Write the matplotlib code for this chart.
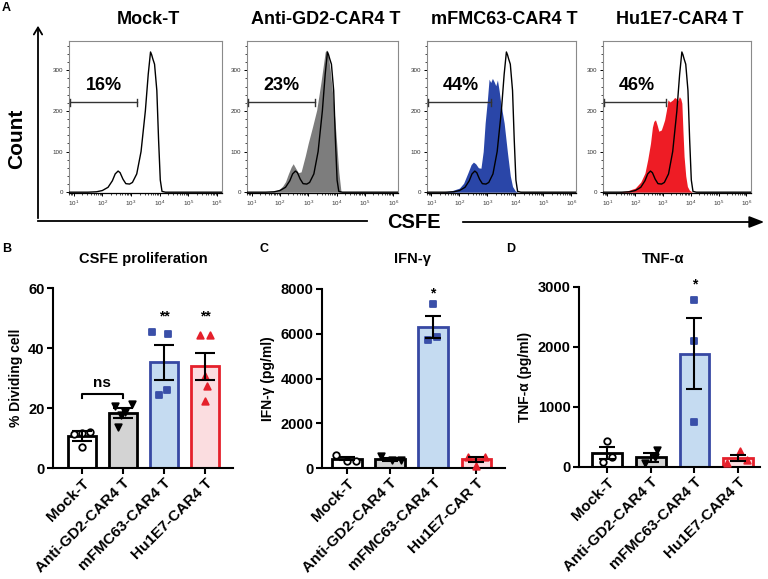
import matplotlib
matplotlib.use("Agg")
import matplotlib.pyplot as plt
import numpy as np
from matplotlib.lines import Line2D
from matplotlib.patches import FancyArrowPatch
from matplotlib.ticker import FixedLocator, MultipleLocator, LogLocator, NullFormatter

plt.rcParams['font.family'] = ['Liberation Sans', 'DejaVu Sans']
plt.rcParams['font.weight'] = 'bold'

W, H = 768, 579

# ---- panel A: CSFE histograms (log10 CSFE, count) ----
hist_titles = ["Mock-T", "Anti-GD2-CAR4 T", "mFMC63-CAR4 T", "Hu1E7-CAR4 T"]
gate_pct = ["16%", "23%", "44%", "46%"]
gate_end = [3.2, 3.24, 3.12, 3.12]

mock_lx = [0.85, 1.5, 1.8, 2.0, 2.2, 2.35, 2.45, 2.55, 2.62, 2.72, 2.82, 2.95, 3.05, 3.2,
           3.35, 3.5, 3.6, 3.68, 3.72, 3.76, 3.82, 3.9, 3.96, 4.02, 4.08, 4.2, 6.2]
mock_cnt = [0, 0, 1, 4, 12, 28, 45, 52, 48, 32, 21, 20, 24, 45,
            100, 200, 290, 345, 338, 328, 315, 250, 130, 30, 2, 0, 0]

anti_lx = [0.85, 1.5, 1.8, 2.0, 2.1, 2.2, 2.3, 2.4, 2.47, 2.55, 2.65, 2.75, 2.9, 3.0, 3.15,
           3.3, 3.45, 3.55, 3.6, 3.65, 3.7, 3.78, 3.88, 3.98, 4.08, 4.16, 6.2]
anti_cnt = [0, 0, 2, 8, 15, 26, 45, 62, 70, 60, 48, 50, 90, 120, 160,
            202, 270, 320, 345, 350, 340, 300, 230, 145, 50, 0, 0]

blue_lx = [0.85, 1.35, 1.7, 2.0, 2.15, 2.3, 2.42, 2.5, 2.58, 2.68, 2.77, 2.85, 2.92, 3.0, 3.06,
           3.12, 3.18, 3.24, 3.3, 3.36, 3.42, 3.48, 3.6, 3.72, 3.82, 3.9, 4.0, 4.1, 6.2]
blue_cnt = [0, 0, 3, 10, 22, 47, 68, 74, 70, 60, 59, 100, 170, 227, 278,
            270, 280, 272, 262, 276, 250, 219, 170, 96, 40, 14, 3, 0, 0]

red_lx = [0.85, 1.35, 1.7, 2.0, 2.2, 2.35, 2.45, 2.55, 2.62, 2.67, 2.73, 2.79, 2.85, 2.94, 3.0,
          3.06, 3.12, 3.18, 3.25, 3.35, 3.42, 3.47, 3.53, 3.59, 3.64, 3.68, 3.72, 3.76, 3.82,
          3.88, 3.95, 4.06, 6.2]
red_cnt = [0, 0, 3, 10, 25, 47, 80, 120, 160, 174, 178, 165, 150, 153, 165,
           178, 200, 227, 222, 227, 233, 231, 225, 235, 230, 219, 150, 88, 40,
           14, 5, 0, 0]

filled = [None, (anti_lx, anti_cnt, "#7d7d7d"), (blue_lx, blue_cnt, "#2a46a8"),
          (red_lx, red_cnt, "#ee1c25")]
hist_px = [(69, 222), (247, 398), (427, 576), (603, 751)]

# ---- panels B-D: bar charts ----
groups_b = ["Mock-T", "Anti-GD2-CAR4 T", "mFMC63-CAR4 T", "Hu1E7-CAR4 T"]
groups_c = ["Mock-T", "Anti-GD2-CAR4 T", "mFMC63-CAR4 T", "Hu1E7-CAR T"]

div_mean = [10.6, 18.3, 35.2, 33.9]
div_sem = [1.6, 1.7, 5.7, 4.4]
div_pts = [[11.3, 11.8, 12.0, 6.9],
           [20.8, 18.6, 21.2, 13.8, 17.8],
           [45.2, 44.8, 24.3, 25.9],
           [44.4, 44.2, 30.6, 27.2, 22.2]]
div_off = [[-0.2, 0.0, 0.19, 0.0], [-0.2, 0.05, 0.22, -0.13, -0.05],
           [-0.28, 0.1, -0.12, 0.08], [-0.12, 0.12, 0.0, 0.05, 0.0]]

ifn_mean = [420, 380, 6300, 380]
ifn_sem = [80, 60, 500, 110]
ifn_pts = [[600, 330, 330], [520, 350, 350], [7340, 5700, 5850], [490, 490, 80]]
ifn_off = [[-0.25, 0.0, 0.22], [-0.2, 0.05, 0.25], [0.0, -0.12, 0.1], [-0.2, 0.2, 0.0]]

tnf_mean = [233, 161, 1890, 150]
tnf_sem = [100, 72, 595, 55]
tnf_pts = [[430, 160, 90], [70, 170, 290], [2790, 2100, 745], [70, 260, 110]]
tnf_off = [[0.0, 0.12, -0.1], [-0.12, 0.1, 0.15], [0.0, 0.0, 0.0], [-0.25, 0.05, 0.2]]

bar_face = ["white", "#d3d3d3", "#c5dbf1", "#fbdde0"]
bar_edge = ["black", "black", "#3748a3", "#e5202b"]
pt_marker = ["o", "v", "s", "^"]
pt_face = ["white", "black", "#3a4fa8", "#e5202b"]
pt_edge = ["black", "black", "#3a4fa8", "#e5202b"]

fig = plt.figure(figsize=(W / 100, H / 100), dpi=100)


def add_ax(x0, y0, x1, y1):
    return fig.add_axes([x0 / W, 1 - y1 / H, (x1 - x0) / W, (y1 - y0) / H])


def fx(x):
    return x / W


def fy(y):
    return 1 - y / H


# histograms
for i in range(4):
    x0, x1 = hist_px[i]
    ax = add_ax(x0, 41, x1, 193)
    if filled[i] is not None:
        lx, cnt, col = filled[i]
        ax.fill_between(10 ** np.array(lx), cnt, 0, color=col, lw=0, zorder=2)
    ax.plot(10 ** np.array(mock_lx), mock_cnt, color="black", lw=1.0, zorder=3)
    ax.set_xscale("log")
    ax.set_xlim(10 ** 0.84, 10 ** 6.17)
    ax.set_ylim(-2, 372)
    ax.xaxis.set_major_locator(FixedLocator([1e1, 1e2, 1e3, 1e4, 1e5, 1e6]))
    ax.xaxis.set_minor_locator(LogLocator(base=10, subs=np.arange(2, 10), numticks=20))
    ax.xaxis.set_minor_formatter(NullFormatter())
    ax.yaxis.set_major_locator(FixedLocator([0, 100, 200, 300]))
    ax.yaxis.set_minor_locator(MultipleLocator(20))
    ax.tick_params(which="major", length=2.5, width=0.7, labelsize=4.5, pad=1.5,
                   labelcolor="#333333")
    ax.tick_params(which="minor", length=1.3, width=0.5)
    for s in ["top", "right", "left"]:
        ax.spines[s].set_color("#8a8a8a")
        ax.spines[s].set_linewidth(0.8)
    ax.spines["bottom"].set_linewidth(0.9)
    for lab in ax.get_xticklabels() + ax.get_yticklabels():
        lab.set_fontweight("normal")
    # gate
    g0, g1 = 10 ** 0.87, 10 ** gate_end[i]
    ax.plot([g0, g1], [221, 221], color="#333333", lw=1.0, zorder=4)
    ax.plot([g0, g0], [212, 230], color="#333333", lw=1.0, zorder=4)
    ax.plot([g1, g1], [212, 230], color="#333333", lw=1.0, zorder=4)
    ax.text(10 ** 2.05, 262, gate_pct[i], ha="center", va="center",
            fontsize=13, fontweight="bold", zorder=5)
    fig.text(fx((x0 + x1) / 2 + 3), fy(20), hist_titles[i], ha="center", va="center",
             fontsize=13, fontweight="bold")

# big axes of panel A
fig.add_artist(FancyArrowPatch((fx(38), fy(221)), (fx(38), fy(23)), transform=fig.transFigure,
                               arrowstyle="->,head_length=5,head_width=3", lw=1.3,
                               color="black", mutation_scale=1))
fig.add_artist(Line2D([fx(38), fx(367)], [fy(221), fy(221)], transform=fig.transFigure,
                      color="black", lw=1.3))
fig.add_artist(FancyArrowPatch((fx(460), fy(222)), (fx(767), fy(222)), transform=fig.transFigure,
                               arrowstyle="-|>,head_length=9,head_width=3.5", lw=1.3,
                               color="black", mutation_scale=1))
fig.text(fx(17), fy(139), "Count", rotation=90, ha="center", va="center",
         fontsize=15, fontweight="bold")
fig.text(fx(414), fy(222), "CSFE", ha="center", va="center", fontsize=14.5, fontweight="bold")
fig.text(fx(2), fy(8), "A", ha="left", va="center", fontsize=9, fontweight="bold")


def bar_panel(box, xlim, means, sems, pts, offs, groups, ymax, ystep, ylabel, title,
              title_x, letter, letter_x, capsize):
    ax = add_ax(*box)
    xs = np.arange(len(means))
    ax.bar(xs, means, width=0.68, color=bar_face, edgecolor=bar_edge, linewidth=2, zorder=2)
    for j in range(len(means)):
        ax.scatter(xs[j] + np.array(offs[j]), pts[j], marker=pt_marker[j], s=22,
                   facecolor=pt_face[j], edgecolor=pt_edge[j], linewidth=1.3, zorder=3,
                   clip_on=False)
    ax.errorbar(xs, means, yerr=sems, fmt="none", ecolor="black", elinewidth=1.5,
                capsize=capsize, capthick=1.5, zorder=4)
    ax.set_xlim(*xlim)
    ax.set_ylim(0, ymax)
    ax.set_yticks(np.arange(0, ymax + 1, ystep))
    ax.set_xticks(xs)
    ax.set_xticklabels(groups, rotation=45, ha="right", rotation_mode="anchor",
                       fontsize=11, fontweight="bold")
    for lab in ax.get_yticklabels():
        lab.set_fontweight("bold")
        lab.set_fontsize(10.5)
    ax.tick_params(length=4, width=1.5, pad=2)
    ax.spines["top"].set_visible(False)
    ax.spines["right"].set_visible(False)
    ax.spines["left"].set_linewidth(1.5)
    ax.spines["bottom"].set_linewidth(1.5)
    ax.set_ylabel(ylabel, fontsize=10, fontweight="bold", labelpad=4)
    fig.text(fx(title_x), fy(259), title, ha="center", va="center", fontsize=10.5,
             fontweight="bold")
    fig.text(fx(letter_x), fy(249), letter, ha="left", va="center", fontsize=9,
             fontweight="bold")
    return ax


axb = bar_panel((53, 288, 233, 468), (-0.7, 3.68), div_mean, div_sem, div_pts, div_off,
                groups_b, 60, 20, "% Dividing cell", "CSFE proliferation", 143, "B", 2, 7)
for j in [2, 3]:
    axb.text(j, 50.5, "**", ha="center", va="center", fontsize=10, fontweight="bold")
axb.plot([0, 0, 1, 1], [23.3, 24.8, 24.8, 23.3], color="black", lw=1.5)
axb.text(0.5, 28.3, "ns", ha="center", va="center", fontsize=11, fontweight="bold")

axc = bar_panel((322, 289, 505, 468), (-0.58, 3.67), ifn_mean, ifn_sem, ifn_pts, ifn_off,
                groups_c, 8000, 2000, "IFN-γ (pg/ml)", "IFN-γ", 412, "C", 259, 6)
axc.text(2, 7820, "*", ha="center", va="center", fontsize=10, fontweight="bold")

axd = bar_panel((579, 287, 760, 467), (-0.64, 3.5), tnf_mean, tnf_sem, tnf_pts, tnf_off,
                groups_b, 3000, 1000, "TNF-α (pg/ml)", "TNF-α", 663, "D", 506, 6)
axd.text(2, 3040, "*", ha="center", va="center", fontsize=10, fontweight="bold")

fig.savefig("out.png", dpi=100)
